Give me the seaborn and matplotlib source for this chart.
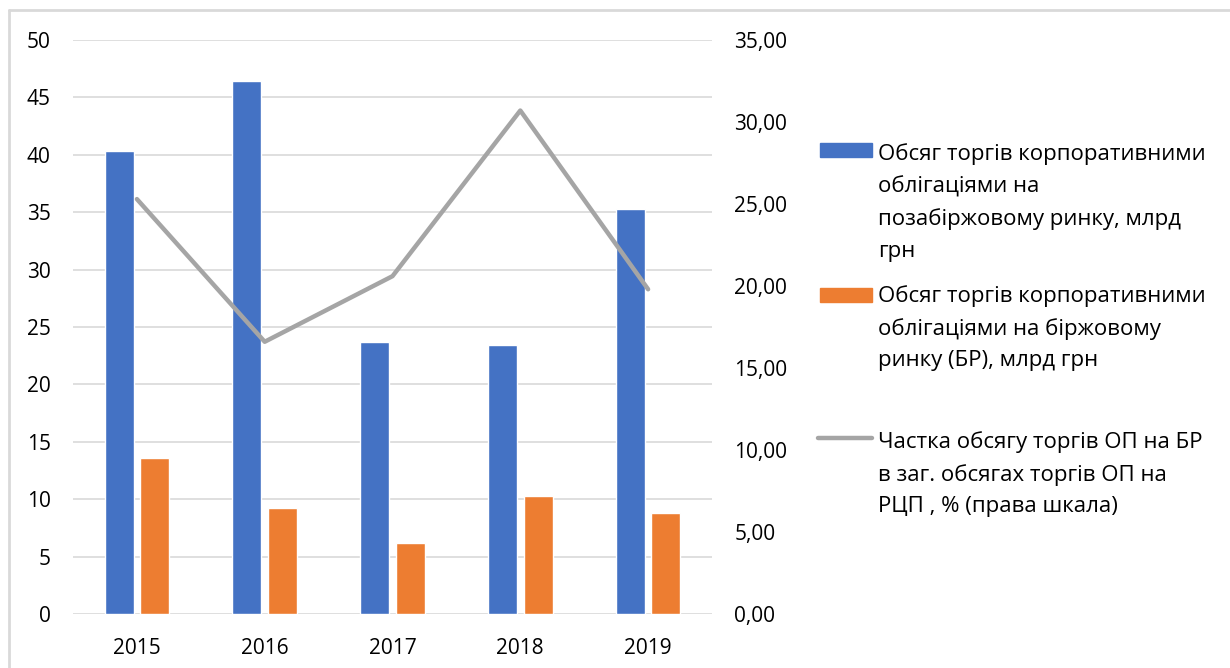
import pandas as pd
import matplotlib
matplotlib.use("Agg")
import matplotlib.pyplot as plt
import seaborn as sns
from matplotlib.patches import Rectangle
from matplotlib.lines import Line2D
from matplotlib.ticker import FuncFormatter

years = ["2015", "2016", "2017", "2018", "2019"]
otc_volume = [40.3, 46.4, 23.7, 23.4, 35.3]
exchange_volume = [13.6, 9.2, 6.2, 10.3, 8.8]
exchange_share = [25.3, 16.6, 20.6, 30.7, 19.8]

series_names = [
    "Обсяг торгів корпоративними\nоблігаціями на\nпозабіржовому ринку, млрд\nгрн",
    "Обсяг торгів корпоративними\nоблігаціями на біржовому\nринку (БР), млрд грн",
    "Частка обсягу торгів ОП на БР\nв заг. обсягах торгів ОП на\nРЦП , % (права шкала)",
]
left_ticks = list(range(0, 51, 5))
right_ticks = list(range(0, 36, 5))

blue = "#4472C4"
orange = "#ED7D31"
grey = "#A5A5A5"

sns.set_theme(style="white")
plt.rcParams["font.family"] = ["Open Sans", "DejaVu Sans"]

df = pd.DataFrame({
    "year": years * 2,
    "value": otc_volume + exchange_volume,
    "series": [series_names[0]] * len(years) + [series_names[1]] * len(years),
})

W, H = 1230, 668
fig = plt.figure(figsize=(W / 100, H / 100), dpi=100)
ax = fig.add_axes([73 / W, 1 - 614 / H, (712 - 73) / W, (614 - 40) / H])

sns.barplot(data=df, x="year", y="value", hue="series", palette=[blue, orange],
            width=0.56, gap=0.19, saturation=1, legend=False, ax=ax)
ax.set_ylim(0, 50)
ax.set_yticks(left_ticks)
ax.set_xlim(-0.5, 4.5)
ax.yaxis.grid(True, color="#D9D9D9", linewidth=1.2)
ax.set_axisbelow(True)
ax.set_xlabel("")
ax.set_ylabel("")
for s in ax.spines.values():
    s.set_visible(False)
ax.tick_params(axis="y", length=0, pad=16, labelsize=15, colors="black")
ax.tick_params(axis="x", length=0, pad=17, labelsize=15, colors="black")

ax2 = ax.twinx()
sns.lineplot(x=years, y=exchange_share, sort=False, color=grey, linewidth=3.2, ax=ax2)
ax2.set_ylim(0, 35)
ax2.set_yticks(right_ticks)
ax2.yaxis.set_major_formatter(FuncFormatter(lambda v, p: f"{v:.2f}".replace(".", ",")))
ax2.set_xlim(-0.5, 4.5)
ax2.set_ylabel("")
for s in ax2.spines.values():
    s.set_visible(False)
ax2.tick_params(axis="y", length=0, pad=16, labelsize=15, colors="black")

# legend on the right, drawn by hand so the swatch sits on the first line
fig.patches.append(Rectangle((820 / W, 1 - 157 / H), 52 / W, 14 / H,
                             transform=fig.transFigure, color=blue))
fig.patches.append(Rectangle((820 / W, 1 - 302 / H), 52 / W, 14 / H,
                             transform=fig.transFigure, color=orange))
fig.lines.append(Line2D([818 / W, 872 / W], [1 - 438 / H, 1 - 438 / H],
                        transform=fig.transFigure, color=grey, linewidth=3.2))
for name, top in zip(series_names, [143, 285, 431]):
    fig.text(878 / W, 1 - top / H, name, fontsize=16, va="top", ha="left",
             linespacing=1.66, color="black")

# page frame
fig.lines.append(Line2D([9 / W, 9 / W], [0, 1 - 10 / H], transform=fig.transFigure,
                        color="#D9D9D9", linewidth=2))
fig.lines.append(Line2D([9 / W, 1], [1 - 10 / H, 1 - 10 / H], transform=fig.transFigure,
                        color="#D9D9D9", linewidth=2))

fig.savefig("out.png", dpi=100)
